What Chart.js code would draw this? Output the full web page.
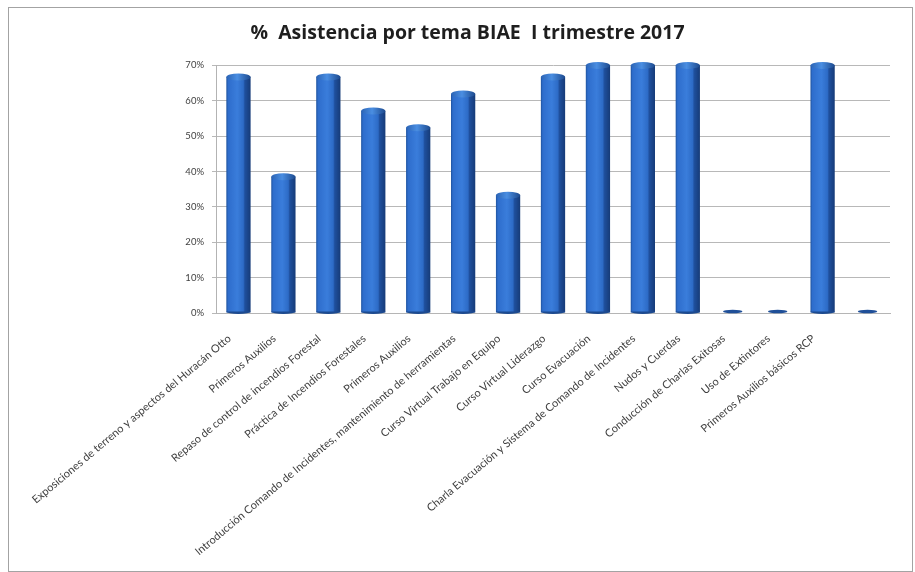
<!DOCTYPE html>
<html>
<head>
<meta charset="utf-8">
<script src="https://cdn.jsdelivr.net/npm/chart.js@4/dist/chart.umd.min.js"></script>
<style>
  html, body { margin: 0; padding: 0; background: #ffffff; }
  #frame { position: absolute; left: 8px; top: 7px; width: 903px; height: 563px; border: 1px solid #a3a3a3; }
  canvas { display: block; }
</style>
</head>
<body>
<div id="frame"><canvas id="chart" width="903" height="563"></canvas></div>
<script>
// Temas impartidos en el trimestre
const categories = [
  'Exposiciones de terreno y aspectos del Huracán Otto',
  'Primeros Auxilios',
  'Repaso de control de incendios Forestal',
  'Práctica de Incendios Forestales',
  'Primeros Auxilios',
  'Introducción Comando de Incidentes, mantenimiento de herramientas',
  'Curso Virtual Trabajo en Equipo',
  'Curso Virtual Liderazgo',
  'Curso Evacuación',
  'Charla Evacuación y Sistema de Comando de Incidentes',
  'Nudos y Cuerdas',
  'Conducción de Charlas Exitosas',
  'Uso de Extintores',
  'Primeros Auxilios básicos RCP',
  ''
];

// Porcentaje de asistencia por tema
const asistencia = [66.7, 38.5, 66.7, 57.1, 52.4, 61.9, 33.3, 66.7, 70, 70, 70, 0, 0, 70, 0];

// Eje vertical
const yMin = 0;
const yMax = 70;
const yStep = 10;

const titleText = '%  Asistencia por tema BIAE  I trimestre 2017';

// Columnas con aspecto cilíndrico: cara frontal con degradado, lateral oscuro y tapa elíptica
const columnLook = {
  id: 'columnLook',
  afterDatasetsDraw(chart) {
    const ctx = chart.ctx;
    chart.getDatasetMeta(0).data.forEach((bar) => {
      const { x, y, base, width } = bar.getProps(['x', 'y', 'base', 'width'], true);
      const l = x - width / 2, r = x + width / 2, rx = width / 2;
      ctx.save();
      if (Math.abs(base - y) < 1) {
        // tema sin asistencia: sólo la base plana
        ctx.beginPath();
        ctx.ellipse(x, base - 1.5, rx * 0.8, 1.8, 0, 0, Math.PI * 2);
        ctx.fillStyle = '#1f4f98';
        ctx.fill();
      } else {
        const g = ctx.createLinearGradient(l, 0, r, 0);
        g.addColorStop(0, '#1f539e');
        g.addColorStop(0.08, '#2e6dcc');
        g.addColorStop(0.45, '#3a7ddb');
        g.addColorStop(0.7, '#2d6bc6');
        g.addColorStop(0.76, '#1f509e');
        g.addColorStop(1, '#163b78');
        ctx.fillStyle = g;
        ctx.fillRect(l, y, width, base - y);
        const cap = ctx.createLinearGradient(l, 0, r, 0);
        cap.addColorStop(0, '#2b63b4');
        cap.addColorStop(0.45, '#4a8ee2');
        cap.addColorStop(1, '#1d4a8e');
        ctx.beginPath();
        ctx.ellipse(x, y, rx, 3.5, 0, 0, Math.PI * 2);
        ctx.fillStyle = cap;
        ctx.fill();
        ctx.beginPath();
        ctx.ellipse(x, base - 1, rx, 2.5, 0, 0, Math.PI);
        ctx.fillStyle = '#1c4a90';
        ctx.fill();
      }
      ctx.restore();
    });
  }
};

new Chart(document.getElementById('chart'), {
  type: 'bar',
  data: {
    labels: categories,
    datasets: [{
      data: asistencia,
      backgroundColor: 'rgba(0,0,0,0)',
      borderWidth: 0,
      barPercentage: 0.54,
      categoryPercentage: 1.0
    }]
  },
  plugins: [columnLook],
  options: {
    responsive: false,
    animation: false,
    layout: { padding: { top: 0, right: 22, bottom: 0, left: 36 } },
    plugins: {
      legend: { display: false },
      tooltip: { enabled: false },
      title: {
        display: true,
        text: titleText,
        color: '#1e1e1e',
        font: { family: 'Open Sans', size: 19.5, weight: 'bold' },
        padding: { top: 14, bottom: 20 }
      }
    },
    scales: {
      x: {
        grid: { display: false },
        border: { display: true, color: '#b5b5b5' },
        ticks: {
          autoSkip: false,
          minRotation: 40,
          maxRotation: 40,
          color: '#404040',
          font: { family: 'Lato', size: 11 },
          padding: 11,
          labelOffset: -9
        },
        afterFit(scale) { scale.height = 258; }
      },
      y: {
        min: yMin,
        max: yMax,
        ticks: {
          stepSize: yStep,
          color: '#404040',
          font: { family: 'Lato', size: 9.5 },
          padding: 8,
          callback: (v) => v + '%'
        },
        grid: { color: '#b8b8b8', lineWidth: 1, tickLength: 4, tickColor: '#b8b8b8' },
        border: { display: true, color: '#b3b3b3' },
        afterFit(scale) { scale.width = 171; }
      }
    }
  }
});
</script>
</body>
</html>
